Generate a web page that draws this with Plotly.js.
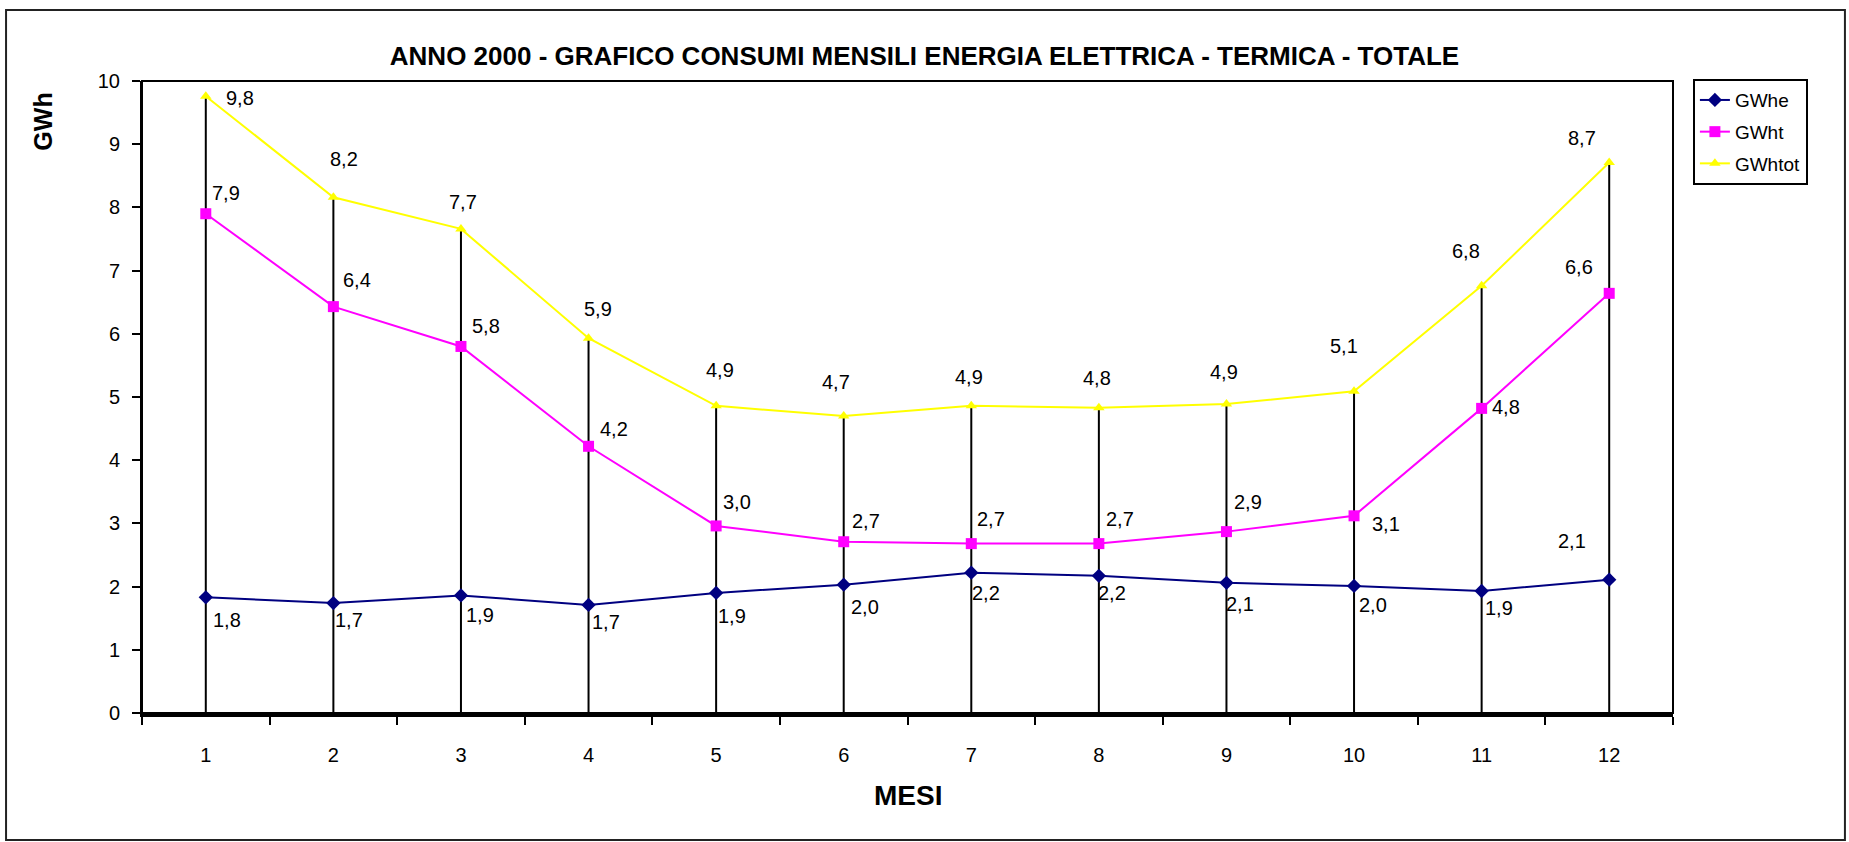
<!DOCTYPE html>
<html>
<head>
<meta charset="utf-8">
<script src="https://cdn.plot.ly/plotly-3.0.1.min.js"></script>
<style>
  html, body { margin: 0; padding: 0; background: #fff; }
  #myDiv { width: 1849px; height: 842px; }
</style>
</head>
<body>
<div id="myDiv"></div>
<script>
// Mesi (categorie)
var mesi = ['1', '2', '3', '4', '5', '6', '7', '8', '9', '10', '11', '12'];

// Serie (GWh)
var gwhe = [1.83, 1.74, 1.86, 1.71, 1.90, 2.03, 2.22, 2.17, 2.06, 2.01, 1.93, 2.11];
var gwht = [7.90, 6.43, 5.80, 4.22, 2.96, 2.71, 2.68, 2.68, 2.87, 3.12, 4.82, 6.64];
var gwhtot = [9.76, 8.16, 7.66, 5.93, 4.86, 4.70, 4.86, 4.83, 4.89, 5.09, 6.76, 8.71];

var yTicks = [0, 1, 2, 3, 4, 5, 6, 7, 8, 9, 10];

// spostamento delle etichette rispetto al punto (px, dx a destra, dy in basso)
var offE = [[21, 23], [16, 17], [19, 20], [17, 17], [16, 23], [21, 22], [15, 20], [13, 17], [14, 21], [19, 19], [17, 17], [-37, -39]];
var offT = [[20, -21], [24, -27], [25, -20], [25, -17], [21, -24], [22, -21], [20, -25], [21, -25], [22, -30], [32, 8], [24, -1], [-30, -26]];
var offTot = [[34, 2], [11, -38], [2, -27], [9, -29], [4, -36], [-8, -34], [-2, -29], [-2, -30], [-2, -32], [-10, -45], [-16, -35], [-27, -25]];

var FONT = 'Liberation Sans, Arial, sans-serif';

// linee di riferimento verticali (da GWhtot fino a 0)
var dropLines = {
    x: mesi,
    y: gwhtot,
    mode: 'markers',
    marker: { size: 1, opacity: 0 },
    error_y: {
        type: 'data',
        symmetric: false,
        array: gwhtot.map(function() { return 0; }),
        arrayminus: gwhtot,
        width: 0,
        thickness: 2,
        color: '#000'
    },
    showlegend: false,
    hoverinfo: 'skip'
};

var traceE = {
    x: mesi, y: gwhe, name: 'GWhe', mode: 'lines+markers',
    line: { color: '#000080', width: 2 },
    marker: { symbol: 'diamond', size: 11, color: '#000080' },
    legendgroup: 'a'
};
var traceT = {
    x: mesi, y: gwht, name: 'GWht', mode: 'lines+markers',
    line: { color: '#FF00FF', width: 2 },
    marker: { symbol: 'square', size: 11, color: '#FF00FF' },
    legendgroup: 'b'
};
var traceTot = {
    x: mesi, y: gwhtot, name: 'GWhtot', mode: 'lines+markers',
    line: { color: '#FFFF00', width: 2 },
    marker: { symbol: 'triangle-up', size: 10, color: '#FFFF00' },
    legendgroup: 'c'
};

// etichette dei valori (x = indice della categoria)
function labels(values, offs) {
    return values.map(function(v, i) {
        return {
            x: i, y: v, xref: 'x', yref: 'y',
            text: v.toFixed(1).replace('.', ','),
            showarrow: false,
            xshift: offs[i][0], yshift: -offs[i][1],
            font: { family: FONT, size: 20, color: '#000' }
        };
    });
}

var annotations = []
    .concat(labels(gwhe, offE))
    .concat(labels(gwht, offT))
    .concat(labels(gwhtot, offTot));

annotations.push({
    text: '<b>MESI</b>', xref: 'paper', yref: 'paper', x: 0.5, y: -0.13,
    xanchor: 'center', yanchor: 'middle', showarrow: false,
    font: { family: FONT, size: 28, color: '#000' }
});
annotations.push({
    text: '<b>GWh</b>', xref: 'paper', yref: 'paper', x: -0.0643, y: 0.935,
    xanchor: 'center', yanchor: 'middle', showarrow: false, textangle: -90,
    font: { family: FONT, size: 25, color: '#000' }
});

var layout = {
    width: 1849,
    height: 842,
    margin: { l: 142, r: 176, t: 81, b: 129 },
    paper_bgcolor: '#fff',
    plot_bgcolor: '#fff',
    font: { family: FONT, size: 20, color: '#000' },
    title: {
        text: '<b>ANNO 2000 - GRAFICO CONSUMI MENSILI ENERGIA ELETTRICA - TERMICA - TOTALE</b>',
        font: { family: FONT, size: 26, color: '#000' },
        x: 0.5, xref: 'container', xanchor: 'center',
        y: 0.9335, yref: 'container', yanchor: 'middle'
    },
    xaxis: {
        type: 'category',
        range: [-0.5, mesi.length - 0.5],
        autorange: false,
        showgrid: false,
        showline: true, linecolor: '#000', linewidth: 4,
        ticks: 'outside', tickson: 'boundaries', ticklen: 8, tickwidth: 2, tickcolor: '#000',
        ticklabelstandoff: 21,
        tickfont: { family: FONT, size: 20, color: '#000' }
    },
    yaxis: {
        range: [0, 10],
        autorange: false,
        tickvals: yTicks,
        showgrid: false, zeroline: false,
        showline: true, linecolor: '#000', linewidth: 2,
        ticks: 'outside', ticklen: 8, tickwidth: 2, tickcolor: '#000',
        ticklabelstandoff: 8,
        tickfont: { family: FONT, size: 20, color: '#000' }
    },
    legend: {
        x: 1.013, y: 1.003, xanchor: 'left', yanchor: 'top',
        bordercolor: '#000', borderwidth: 2,
        font: { family: FONT, size: 19, color: '#000' },
        traceorder: 'grouped', tracegroupgap: 4
    },
    shapes: [
        { type: 'rect', xref: 'paper', yref: 'paper', x0: 0, x1: 1, y0: 0, y1: 1,
          line: { color: '#000', width: 2 } },
        { type: 'rect', xref: 'paper', yref: 'paper', x0: -0.0888, x1: 1.1123, y0: -0.201, y1: 1.1123,
          line: { color: '#222', width: 2 } }
    ],
    annotations: annotations,
    showlegend: true
};

Plotly.newPlot('myDiv', [dropLines, traceE, traceT, traceTot], layout, { displayModeBar: false });
</script>
</body>
</html>
